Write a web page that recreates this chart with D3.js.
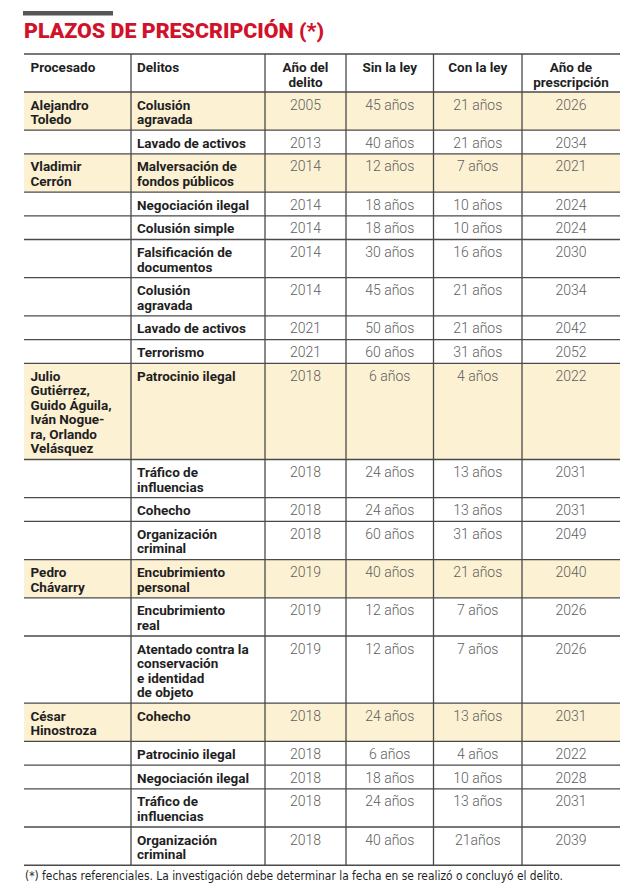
<!DOCTYPE html>
<html>
<head>
<meta charset="utf-8">
<script src="https://cdn.jsdelivr.net/npm/d3@7"></script>
<style>
  html, body { margin: 0; padding: 0; background: #fff; }
  svg { display: block; }
</style>
</head>
<body>
<div id="chart"></div>
<script>
// ---------------- DATA ----------------
const title = "PLAZOS DE PRESCRIPCIÓN (*)";
const footnote = "(*) fechas referenciales. La investigación debe determinar la fecha en se realizó o concluyó el delito.";
const headers = ["Procesado", "Delitos", "Año del\ndelito", "Sin la ley", "Con la ley", "Año de\nprescripción"];
const procesados = [
  "Alejandro\nToledo",
  "Vladimir\nCerrón",
  "Julio\nGutiérrez,\nGuido Águila,\nIván Nogue-\nra, Orlando\nVelásquez",
  "Pedro\nChávarry",
  "César\nHinostroza"
];
const grupo = [0,0,1,1,1,1,1,1,1,2,2,2,2,3,3,3,4,4,4,4,4];
const delitos = [
  "Colusión\nagravada", "Lavado de activos",
  "Malversación de\nfondos públicos", "Negociación ilegal", "Colusión simple",
  "Falsificación de\ndocumentos", "Colusión\nagravada", "Lavado de activos", "Terrorismo",
  "Patrocinio ilegal", "Tráfico de\ninfluencias", "Cohecho", "Organización\ncriminal",
  "Encubrimiento\npersonal", "Encubrimiento\nreal", "Atentado contra la\nconservación\ne identidad\nde objeto",
  "Cohecho", "Patrocinio ilegal", "Negociación ilegal", "Tráfico de\ninfluencias", "Organización\ncriminal"
];
const anioDelito = [2005,2013,2014,2014,2014,2014,2014,2021,2021,2018,2018,2018,2018,2019,2019,2019,2018,2018,2018,2018,2018];
const sinLey = ["45 años","40 años","12 años","18 años","18 años","30 años","45 años","50 años","60 años","6 años","24 años","24 años","60 años","40 años","12 años","12 años","24 años","6 años","18 años","24 años","40 años"];
const conLey = ["21 años","21 años","7 años","10 años","10 años","16 años","21 años","21 años","31 años","4 años","13 años","13 años","31 años","21 años","7 años","7 años","13 años","4 años","10 años","13 años","21años"];
const anioPrescripcion = [2026,2034,2021,2024,2024,2030,2034,2042,2052,2022,2031,2031,2049,2040,2026,2026,2031,2022,2028,2031,2039];

// ---------------- LAYOUT ----------------
const W = 640, H = 894;
const colEdges = [24, 131, 265, 346, 433.5, 522, 620];
const tableTop = 54, headerH = 38;
const linePitch = 14.5, rowPad = 9.2, firstBase = 17.5;
const red = "#d1122b", ink = "#1f1f1f", numInk = "#5e5e5e", rule = "#4a4a4a", hi = "#fcf1d3";
const boldFont = "Roboto, 'Liberation Sans', sans-serif";
const numFont = "Roboto, 'Liberation Sans', sans-serif";
const boldSize = 13.5;

const svg = d3.select("#chart").append("svg").attr("width", W).attr("height", H);

// scales
const xLeft = d3.scaleOrdinal().domain(d3.range(6)).range(colEdges.slice(0, 6));
const xRight = d3.scaleOrdinal().domain(d3.range(6)).range(colEdges.slice(1));
const xMid = i => (xLeft(i) + xRight(i)) / 2;

const rows = delitos.map((d, i) => {
  const first = i === 0 || grupo[i] !== grupo[i - 1];
  const nameLines = first ? procesados[grupo[i]].split("\n") : [];
  const delLines = d.split("\n");
  const n = Math.max(nameLines.length, delLines.length);
  return { i, first, nameLines, delLines, h: rowPad + linePitch * n,
    vals: [String(anioDelito[i]), sinLey[i], conLey[i], String(anioPrescripcion[i])] };
});
const tops = [tableTop + headerH, ...d3.cumsum(rows, r => r.h).map(v => tableTop + headerH + v)];
const y = d3.scaleOrdinal().domain(d3.range(rows.length + 1)).range(tops);
const tableBottom = y(rows.length);

// top grey bar + title
svg.append("rect").attr("x", 23).attr("y", 11).attr("width", 90).attr("height", 4.5).attr("fill", "#575757");
svg.append("text").attr("x", 24).attr("y", 37.5)
  .attr("font-family", "Roboto, 'Liberation Sans', sans-serif").attr("font-weight", 900)
  .attr("font-size", 21).attr("fill", red)
  .attr("textLength", 300).attr("lengthAdjust", "spacingAndGlyphs")
  .text(title);

// highlight rows
svg.append("g").selectAll("rect").data(rows.filter(r => r.first)).join("rect")
  .attr("x", colEdges[0]).attr("width", colEdges[6] - colEdges[0])
  .attr("y", r => y(r.i)).attr("height", r => y(r.i + 1) - y(r.i))
  .attr("fill", hi);

// horizontal rules
const hLines = [tableTop, tableTop + headerH, ...tops.slice(1)];
svg.append("g").selectAll("line").data(hLines).join("line")
  .attr("x1", colEdges[0]).attr("x2", colEdges[6])
  .attr("y1", d => d).attr("y2", d => d)
  .attr("stroke", rule).attr("stroke-width", (d, i) => (i === 0 || i === hLines.length - 1) ? 1.6 : 1.3);

// vertical rules
svg.append("g").selectAll("line").data(colEdges.slice(1, 6)).join("line")
  .attr("x1", d => d).attr("x2", d => d)
  .attr("y1", tableTop).attr("y2", tableBottom)
  .attr("stroke", rule).attr("stroke-width", 1.3);

function multiline(sel, lines, x, y0, anchor) {
  const t = sel.append("text").attr("x", x).attr("y", y0).attr("text-anchor", anchor);
  lines.forEach((l, k) => t.append("tspan").attr("x", x).attr("y", y0 + k * linePitch).text(l));
  return t;
}

// header
const hg = svg.append("g").attr("font-family", boldFont).attr("font-weight", 700)
  .attr("font-size", boldSize).attr("fill", ink);
headers.forEach((h, c) => {
  const lines = h.split("\n");
  if (c < 2) multiline(hg, lines, xLeft(c) + (c === 0 ? 6.5 : 6), tableTop + firstBase + 0.5, "start");
  else multiline(hg, lines, xMid(c), tableTop + firstBase + 0.5, "middle");
});

// body
const bg = svg.append("g");
rows.forEach(r => {
  const base = y(r.i) + firstBase;
  if (r.first) {
    multiline(bg, r.nameLines, xLeft(0) + 6.5, base, "start")
      .attr("font-family", boldFont).attr("font-weight", 700).attr("font-size", boldSize).attr("fill", ink);
  }
  multiline(bg, r.delLines, xLeft(1) + 6, base, "start")
    .attr("font-family", boldFont).attr("font-weight", 700).attr("font-size", boldSize).attr("fill", ink);
  r.vals.forEach((v, k) => {
    bg.append("text").attr("x", xMid(k + 2)).attr("y", base).attr("text-anchor", "middle")
      .attr("font-family", numFont).attr("font-weight", 300).attr("font-size", 14)
      .attr("fill", numInk).text(v);
  });
});

// footnote
svg.append("text").attr("x", 25).attr("y", 880)
  .attr("font-family", "'Liberation Sans Narrow', 'DejaVu Sans Condensed', sans-serif")
  .attr("font-size", 12.5).attr("fill", ink)
  .attr("textLength", 538).attr("lengthAdjust", "spacingAndGlyphs")
  .text(footnote);
</script>
</body>
</html>
